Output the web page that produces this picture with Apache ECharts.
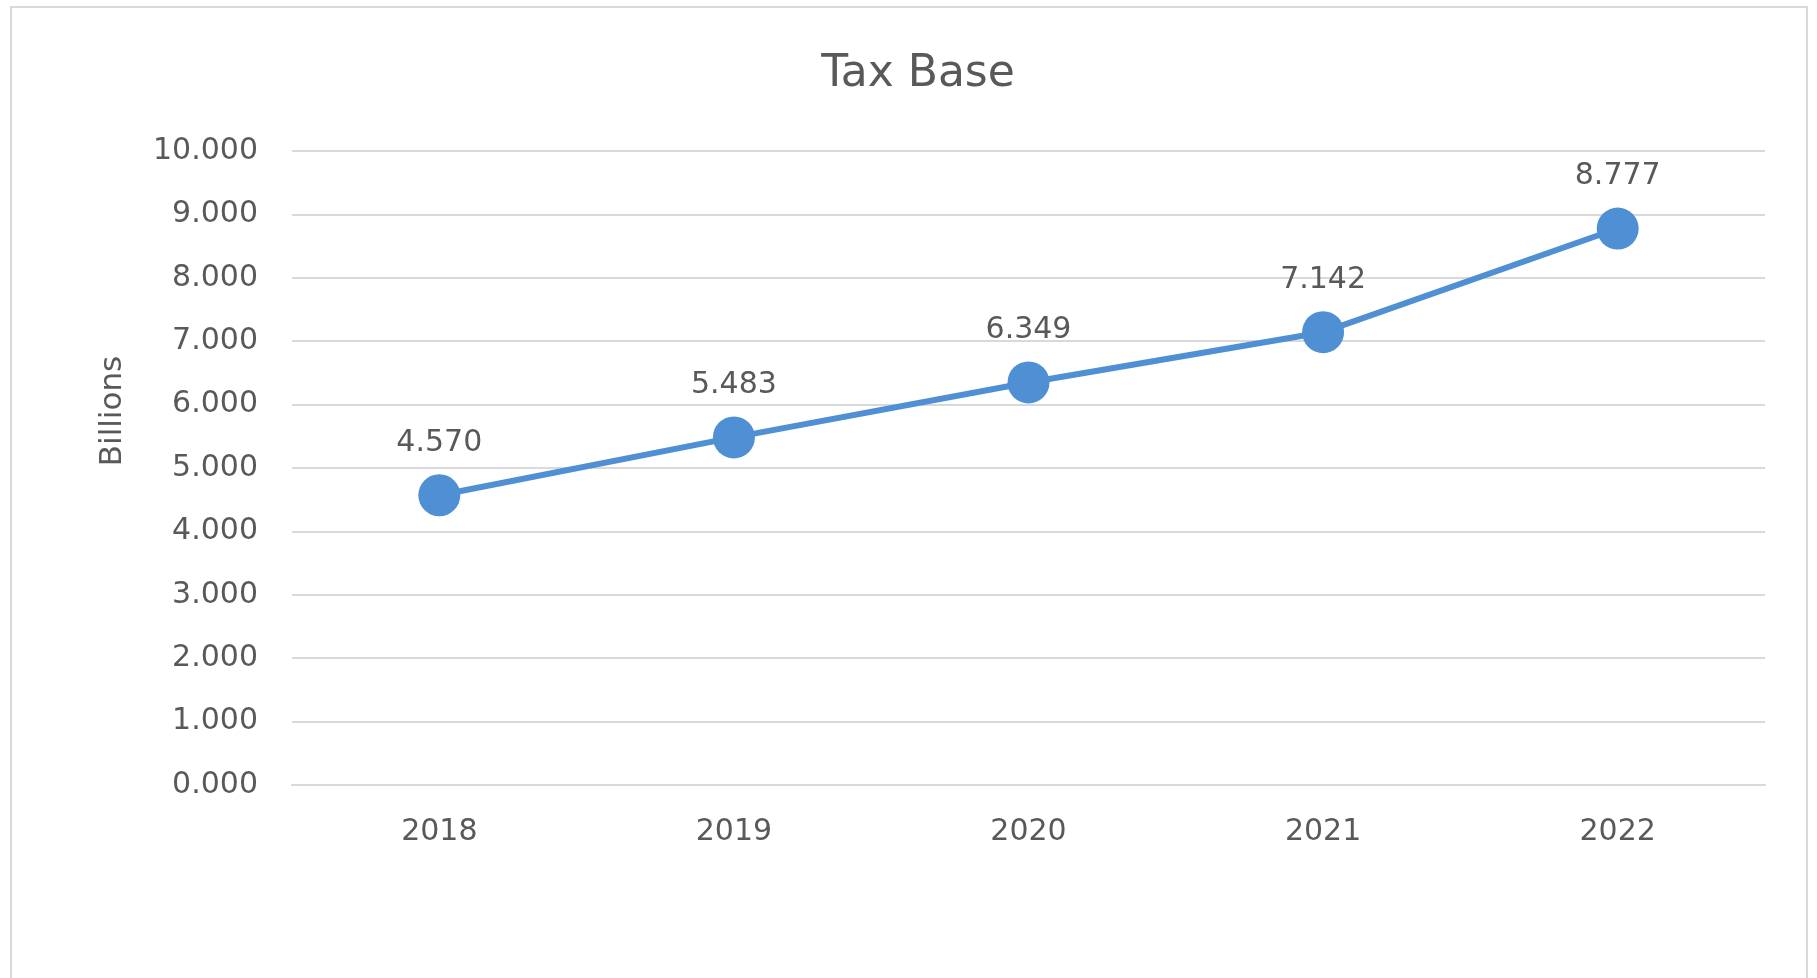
<!DOCTYPE html>
<html>
<head>
<meta charset="utf-8">
<script src="https://cdn.jsdelivr.net/npm/echarts@6/dist/echarts.min.js"></script>
<style>
  html, body { margin: 0; padding: 0; background: #ffffff; }
  #chart { width: 1817px; height: 978px; }
</style>
</head>
<body>
<div id="chart"></div>
<script>
const chartTitle = 'Tax Base';
const yAxisTitle = 'Billions';
const years = ['2018', '2019', '2020', '2021', '2022'];
const taxBase = [4.570, 5.483, 6.349, 7.142, 8.777];
const yMin = 0;
const yMax = 10;
const yStep = 1;

const textColor = '#595959';
const lineColor = '#4f8fd3';
const font = 'DejaVu Sans';

const chart = echarts.init(document.getElementById('chart'), null, { renderer: 'canvas' });
chart.setOption({
  backgroundColor: '#ffffff',
  animation: false,
  graphic: [
    {
      type: 'rect',
      shape: { x: 11, y: 7, width: 1796, height: 1000 },
      style: { fill: 'none', stroke: '#d9d9d9', lineWidth: 2 },
      silent: true
    },
    {
      type: 'text',
      x: 918, y: 75,
      style: {
        text: chartTitle, fill: textColor, font: '44px "' + font + '"',
        textAlign: 'center', textVerticalAlign: 'middle'
      }
    },
    {
      type: 'text',
      x: 113, y: 411,
      rotation: Math.PI / 2,
      style: {
        text: yAxisTitle, fill: textColor, font: '31px "' + font + '"',
        textAlign: 'center', textVerticalAlign: 'middle'
      }
    }
  ],
  grid: { left: 292, right: 52, top: 151, bottom: 193, containLabel: false },
  xAxis: {
    type: 'category',
    data: years,
    boundaryGap: true,
    axisLine: { show: true, lineStyle: { color: '#d9d9d9', width: 2 } },
    axisTick: { show: false },
    axisLabel: { color: textColor, fontFamily: font, fontSize: 30, margin: 32 },
    splitLine: { show: false }
  },
  yAxis: {
    type: 'value',
    min: yMin, max: yMax, interval: yStep,
    axisLine: { show: false },
    axisTick: { show: false },
    axisLabel: {
      color: textColor, fontFamily: font, fontSize: 30, margin: 34,
      formatter: v => v.toFixed(3)
    },
    splitLine: { show: true, lineStyle: { color: '#d9d9d9', width: 2 } }
  },
  series: [{
    type: 'line',
    data: taxBase,
    symbol: 'circle',
    symbolSize: 42,
    lineStyle: { color: lineColor, width: 6 },
    itemStyle: { color: lineColor },
    label: {
      show: true, position: 'top', distance: 16,
      color: textColor, fontFamily: font, fontSize: 30,
      formatter: p => p.value.toFixed(3)
    }
  }]
});
</script>
</body>
</html>
